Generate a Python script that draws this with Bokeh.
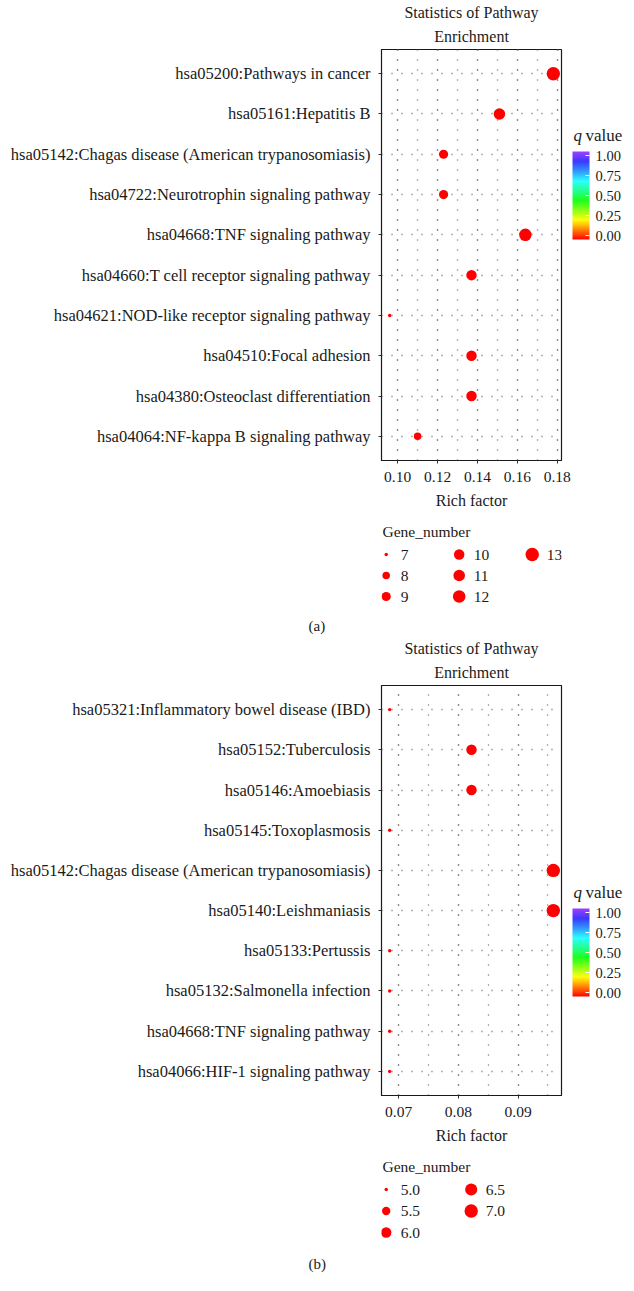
import colorsys
import numpy as np
from bokeh.plotting import figure
from bokeh.models import (ColumnDataSource, Range1d, FixedTicker, SingleIntervalTicker,
                          NumeralTickFormatter, LinearColorMapper, ColorBar, Title, Label)
from bokeh.transform import linear_cmap
from bokeh.layouts import column
from bokeh.core.properties import value
from bokeh.embed import file_html
from bokeh.resources import INLINE

FONT = "Liberation Serif"
INK = "#1a1a1a"

# ---------------- data: panel (a) ----------------
terms_a = [
    "hsa05200:Pathways in cancer",
    "hsa05161:Hepatitis B",
    "hsa05142:Chagas disease (American trypanosomiasis)",
    "hsa04722:Neurotrophin signaling pathway",
    "hsa04668:TNF signaling pathway",
    "hsa04660:T cell receptor signaling pathway",
    "hsa04621:NOD-like receptor signaling pathway",
    "hsa04510:Focal adhesion",
    "hsa04380:Osteoclast differentiation",
    "hsa04064:NF-kappa B signaling pathway",
]
rich_a = [0.178, 0.151, 0.123, 0.123, 0.164, 0.137, 0.096, 0.137, 0.137, 0.110]
genes_a = [13, 11, 9, 9, 12, 10, 7, 10, 10, 8]
qval_a = [0.0, 0.0, 0.0, 0.0, 0.0, 0.0, 0.0, 0.0, 0.0, 0.0]
legend_genes_a = [7, 8, 9, 10, 11, 12, 13]
legend_labels_a = ["7", "8", "9", "10", "11", "12", "13"]

# ---------------- data: panel (b) ----------------
terms_b = [
    "hsa05321:Inflammatory bowel disease (IBD)",
    "hsa05152:Tuberculosis",
    "hsa05146:Amoebiasis",
    "hsa05145:Toxoplasmosis",
    "hsa05142:Chagas disease (American trypanosomiasis)",
    "hsa05140:Leishmaniasis",
    "hsa05133:Pertussis",
    "hsa05132:Salmonella infection",
    "hsa04668:TNF signaling pathway",
    "hsa04066:HIF-1 signaling pathway",
]
rich_b = [0.0685, 0.0822, 0.0822, 0.0685, 0.0959, 0.0959, 0.0685, 0.0685, 0.0685, 0.0685]
genes_b = [5, 6, 6, 5, 7, 7, 5, 5, 5, 5]
qval_b = [0.0, 0.0, 0.0, 0.0, 0.0, 0.0, 0.0, 0.0, 0.0, 0.0]
legend_genes_b = [5.0, 5.5, 6.0, 6.5, 7.0]
legend_labels_b = ["5.0", "5.5", "6.0", "6.5", "7.0"]

cbar_ticks = [0.0, 0.25, 0.5, 0.75, 1.0]

LEFT, RIGHT, FRAME_W = 381, 73, 180


def rainbow(n=256):
    cols = []
    for i in range(n):
        t = i / (n - 1)
        r, g, b = colorsys.hsv_to_rgb(0.75 * t, 1.0 - 0.25 * t, 1.0)
        cols.append("#%02x%02x%02x" % (int(r * 255 + 0.5), int(g * 255 + 0.5), int(b * 255 + 0.5)))
    return cols


PAL = rainbow()


def dot_size(g, lo, hi):
    g = np.asarray(g, dtype=float)
    return 1.4 + 2.0 * (1 + 5 * np.sqrt((g - lo) / (hi - lo)))


def main_fig(terms, rich, genes, q, interval, top, frame_h, bottom, cb_y, q_y):
    n = len(terms)
    ypos = [n - i for i in range(n)]
    span = max(rich) - min(rich)
    p = figure(width=LEFT + FRAME_W + RIGHT, height=top + frame_h + bottom,
               x_range=Range1d(min(rich) - 0.05 * span, max(rich) + 0.05 * span),
               y_range=Range1d(0.4, n + 0.6),
               min_border_left=LEFT, min_border_right=RIGHT,
               min_border_top=top, min_border_bottom=bottom,
               output_backend="svg", toolbar_location=None, title=None)
    p.add_layout(Title(text="Enrichment", align="center", text_font=FONT,
                       text_font_style="normal", text_font_size="16px",
                       text_color=INK, standoff=10), "above")
    p.add_layout(Title(text="Statistics of Pathway", align="center", text_font=FONT,
                       text_font_style="normal", text_font_size="16px",
                       text_color=INK, standoff=0), "above")
    p.outline_line_color = INK
    p.outline_line_width = 1.2

    xt = SingleIntervalTicker(interval=interval, num_minor_ticks=2)
    p.xaxis.ticker = xt
    p.xaxis.formatter = NumeralTickFormatter(format="0.00")
    p.xaxis.axis_label = "Rich factor"
    p.yaxis.ticker = FixedTicker(ticks=ypos)
    p.yaxis.major_label_overrides = {y: t for y, t in zip(ypos, terms)}
    for ax in (p.xaxis, p.yaxis):
        ax.major_label_text_font = FONT
        ax.major_label_text_color = INK
        ax.axis_label_text_font = FONT
        ax.axis_label_text_font_style = "normal"
        ax.axis_label_text_font_size = "16px"
        ax.axis_label_text_color = INK
        ax.axis_line_color = INK
        ax.major_tick_line_color = "#333333"
        ax.major_tick_in = 0
        ax.major_tick_out = 3
        ax.minor_tick_line_color = None
    p.yaxis.major_label_text_font_size = "16.5px"
    p.xaxis.major_label_text_font_size = "15.5px"
    p.yaxis.major_label_standoff = 8
    p.xaxis.major_label_standoff = 7
    p.xaxis.axis_label_standoff = 7

    p.xgrid.ticker = xt
    p.ygrid.ticker = FixedTicker(ticks=ypos)
    for gr in (p.xgrid, p.ygrid):
        gr.grid_line_color = "#666666"
        gr.grid_line_dash = "1 9"
        gr.grid_line_width = 1.3
    p.xgrid.minor_grid_line_color = "#666666"
    p.xgrid.minor_grid_line_dash = "1 9"
    p.xgrid.minor_grid_line_width = 1.3

    src = ColumnDataSource(dict(x=rich, y=ypos, q=q, genes=genes,
                                size=dot_size(genes, min(genes), max(genes))))
    p.scatter("x", "y", size="size", source=src, line_color=None,
              fill_color=linear_cmap("q", PAL, 0, 1))

    # "q value" caption of the colour bar (right side panel, closest to the frame)
    p.add_layout(Label(x=12, y=q_y, x_units="screen", y_units="screen", text="q",
                       text_font=FONT, text_font_style="italic", text_font_size="17px",
                       text_baseline="middle", text_color=INK), "right")
    p.add_layout(Label(x=15, y=q_y, x_units="screen", y_units="screen", text="value",
                       text_font=FONT, text_font_size="17px",
                       text_baseline="middle", text_color=INK), "right")

    cmap = LinearColorMapper(palette=PAL, low=-0.05, high=1.05)
    cb = ColorBar(color_mapper=cmap, width=17, height=88,
                  ticker=FixedTicker(ticks=cbar_ticks),
                  formatter=NumeralTickFormatter(format="0.00"),
                  major_label_text_font=FONT, major_label_text_font_size="14.5px",
                  major_label_text_color=INK,
                  major_tick_line_color="white", major_tick_in=4, major_tick_out=0,
                  bar_line_color=None, padding=0, margin=0, label_standoff=6,
                  location=(-35, cb_y), background_fill_color=None, border_line_color=None)
    p.add_layout(cb, "right")
    return p


def legend_fig(vals, labels, lo, hi, frame_h, bottom, col_w, row_h, y0, panel_label, standoff):
    f = figure(width=LEFT + FRAME_W + RIGHT, height=frame_h + bottom,
               x_range=Range1d(LEFT, LEFT + FRAME_W), y_range=Range1d(frame_h, 0),
               x_axis_type=None, y_axis_type=None,
               min_border_left=LEFT, min_border_right=RIGHT,
               min_border_top=0, min_border_bottom=bottom,
               output_backend="svg", toolbar_location=None, title=None)
    f.grid.visible = False
    f.outline_line_color = None
    f.add_layout(Title(text=panel_label, align="left", offset=-73, text_font=FONT,
                       text_font_style="normal", text_font_size="15px",
                       text_color=INK, standoff=standoff), "below")
    idx = np.arange(len(vals))
    mx = LEFT + 4.7 + (idx // 3) * col_w
    my = y0 + 23 + (idx % 3) * row_h
    f.scatter(mx, my, size=dot_size(vals, lo, hi), fill_color="red", line_color=None)
    f.text(mx + 14.5, my, text=labels, text_font=value(FONT), text_font_size="15.5px",
           text_baseline="middle", text_align="left", text_color=INK)
    f.text([LEFT + 1], [y0], text=["Gene_number"], text_font=value(FONT), text_font_size="15.5px",
           text_baseline="middle", text_align="left", text_color=INK)
    return f


fa = main_fig(terms_a, rich_a, genes_a, qval_a, 0.02, 49, 411, 58, 221, 325)
la = legend_fig(legend_genes_a, legend_labels_a, min(genes_a), max(genes_a),
                96, 21, 73, 21, 13, "(a)", 2)
fb = main_fig(terms_b, rich_b, genes_b, qval_b, 0.01, 50, 410, 57, 99, 203)
lb = legend_fig(legend_genes_b, legend_labels_b, min(genes_b), max(genes_b),
                98, 30, 85, 21.5, 14, "(b)", 6)

layout = column(fa, la, fb, lb, spacing=0)
open("out.html", "w").write(file_html(layout, INLINE))
